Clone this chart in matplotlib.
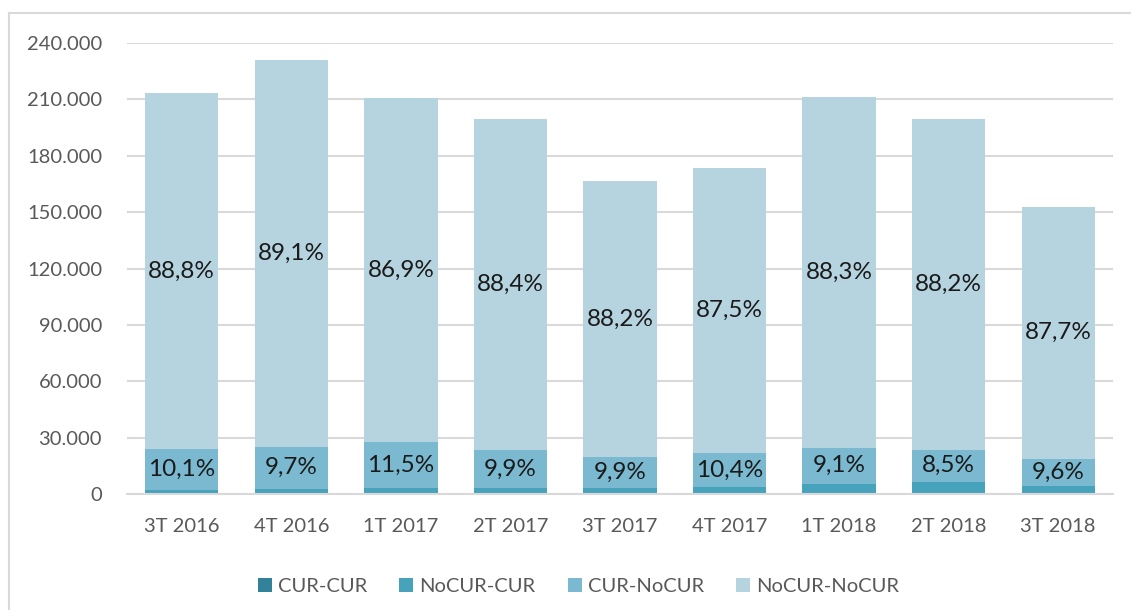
import numpy as np
import matplotlib
matplotlib.use("Agg")
import matplotlib.pyplot as plt
from matplotlib.lines import Line2D
from matplotlib.ticker import FuncFormatter

plt.rcParams["font.family"] = ["Lato", "DejaVu Sans"]

# quarters and stacked values (thousands of operations)
QUARTERS = ["3T 2016", "4T 2016", "1T 2017", "2T 2017", "3T 2017",
            "4T 2017", "1T 2018", "2T 2018", "3T 2018"]
CUR_CUR = [300, 300, 400, 400, 400, 400, 500, 500, 400]
NOCUR_CUR = [2050, 2470, 2970, 2990, 2770, 3240, 4990, 6090, 3720]
CUR_NOCUR = [21600, 22400, 24200, 19800, 16500, 18000, 19200, 17000, 14700]
NOCUR_NOCUR = [189500, 205800, 183100, 176400, 146900, 151800, 186600, 176000, 133900]

# data labels as printed on the chart
LBL_CUR_NOCUR = ["10,1%", "9,7%", "11,5%", "9,9%", "9,9%", "10,4%", "9,1%", "8,5%", "9,6%"]
LBL_NOCUR_NOCUR = ["88,8%", "89,1%", "86,9%", "88,4%", "88,2%", "87,5%", "88,3%", "88,2%", "87,7%"]

SERIES = [("CUR-CUR", CUR_CUR, "#33829A"),
          ("NoCUR-CUR", NOCUR_CUR, "#47A2BC"),
          ("CUR-NoCUR", CUR_NOCUR, "#7AB9D0"),
          ("NoCUR-NoCUR", NOCUR_NOCUR, "#B6D4DF")]

fig = plt.figure(figsize=(11.31, 6.10), dpi=100)
ax = fig.add_axes([127 / 1131, 1 - 494 / 610, 986 / 1131, 451 / 610])

x = np.arange(len(QUARTERS))
bottom = np.zeros(len(QUARTERS))
mids = {}
for name, vals, col in SERIES:
    vals = np.array(vals, dtype=float)
    ax.bar(x, vals, 0.67, bottom=bottom, color=col, label=name, zorder=2)
    mids[name] = bottom + vals / 2
    bottom = bottom + vals

for i in range(len(QUARTERS)):
    ax.text(x[i], mids["CUR-NoCUR"][i], LBL_CUR_NOCUR[i], ha="center", va="center",
            fontsize=17.5, color="#1a1a1a", zorder=3)
    ax.text(x[i], mids["NoCUR-NoCUR"][i], LBL_NOCUR_NOCUR[i], ha="center", va="center",
            fontsize=17.5, color="#1a1a1a", zorder=3)

ax.set_xlim(-0.5, len(QUARTERS) - 0.5)
ax.set_ylim(0, 240000)
ax.set_yticks(np.arange(0, 240001, 30000))
ax.yaxis.set_major_formatter(FuncFormatter(lambda v, p: f"{int(v):,}".replace(",", ".")))
ax.set_xticks(x)
ax.set_xticklabels(QUARTERS)
ax.grid(axis="y", color="#D9D9D9", linewidth=1.5, zorder=0)
for s in ["top", "right", "left"]:
    ax.spines[s].set_visible(False)
ax.spines["bottom"].set_color("#D9D9D9")
ax.spines["bottom"].set_linewidth(1.5)
ax.tick_params(length=0, labelsize=14.5, labelcolor="#595959")
ax.tick_params(axis="x", pad=17)
ax.tick_params(axis="y", pad=18)

ax.legend(loc="upper center", bbox_to_anchor=(0.458, -0.145), ncol=4, frameon=False,
          fontsize=14.5, labelcolor="#595959", handlelength=0.7, handleheight=0.7,
          handletextpad=0.3, columnspacing=1.6)

# light frame of the chart area (left and top edges)
fig.add_artist(Line2D([9 / 1131, 9 / 1131], [0, 1 - 13 / 610], transform=fig.transFigure,
                      color="#D9D9D9", linewidth=1.5))
fig.add_artist(Line2D([9 / 1131, 1], [1 - 13 / 610, 1 - 13 / 610], transform=fig.transFigure,
                      color="#D9D9D9", linewidth=1.5))

fig.savefig("out.png", dpi=100)
